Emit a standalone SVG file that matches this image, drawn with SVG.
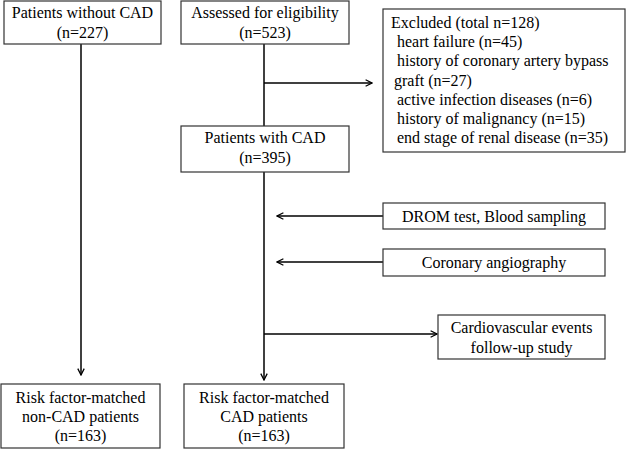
<svg xmlns="http://www.w3.org/2000/svg" width="626" height="449" viewBox="0 0 626 449">
<style>
.box{fill:#fff;stroke:#333;stroke-width:1.2}
.t{font-size:16px;fill:#000}
.c{text-anchor:middle}
.ln{stroke:#000;stroke-width:1.5;fill:none}
</style>
<defs>
<marker id="ah" viewBox="0 0 10 10" refX="9" refY="5" markerWidth="8" markerHeight="8" markerUnits="userSpaceOnUse" orient="auto">
<path d="M1,1 L9,5 L1,9" fill="none" stroke="#000" stroke-width="1.6"/>
</marker>
</defs>
<rect width="626" height="449" fill="#fff"/>
<g id="connectors">
<line class="ln" x1="81" y1="44" x2="81" y2="375" marker-end="url(#ah)"/>
<line class="ln" x1="264" y1="44" x2="264" y2="126"/>
<line class="ln" x1="264" y1="83" x2="372" y2="83" marker-end="url(#ah)"/>
<line class="ln" x1="264" y1="172" x2="264" y2="380" marker-end="url(#ah)"/>
<line class="ln" x1="383" y1="216" x2="277" y2="216" marker-end="url(#ah)"/>
<line class="ln" x1="383" y1="262" x2="277" y2="262" marker-end="url(#ah)"/>
<line class="ln" x1="264" y1="334" x2="437" y2="334" marker-end="url(#ah)"/>
</g>
<g font-family="Liberation Serif, Times New Roman, serif">
<g id="without">
<rect class="box" x="4" y="1" width="157" height="43"/>
<text class="t c" x="82.5" y="18">Patients without CAD</text>
<text class="t c" x="82.5" y="38">(n=227)</text>
</g>
<g id="assessed">
<rect class="box" x="181" y="1" width="168" height="43"/>
<text class="t c" x="265" y="18">Assessed for eligibility</text>
<text class="t c" x="265" y="38">(n=523)</text>
</g>
<g id="excluded">
<rect class="box" x="383" y="9" width="242" height="143"/>
<text class="t" x="391" y="28">Excluded (total n=128)</text>
<text class="t" x="397" y="47">heart failure (n=45)</text>
<text class="t" x="397" y="66">history of coronary artery bypass</text>
<text class="t" x="394" y="86">graft (n=27)</text>
<text class="t" x="397" y="105">active infection diseases (n=6)</text>
<text class="t" x="397" y="124">history of malignancy (n=15)</text>
<text class="t" x="397" y="143">end stage of renal disease (n=35)</text>
</g>
<g id="withcad">
<rect class="box" x="181" y="126" width="168" height="46"/>
<text class="t c" x="265" y="143">Patients with CAD</text>
<text class="t c" x="265" y="163">(n=395)</text>
</g>
<g id="drom">
<rect class="box" x="383" y="203" width="222" height="26"/>
<text class="t c" x="494" y="222">DROM test, Blood sampling</text>
</g>
<g id="angio">
<rect class="box" x="383" y="249" width="222" height="27"/>
<text class="t c" x="494" y="268">Coronary angiography</text>
</g>
<g id="cardio">
<rect class="box" x="438" y="315" width="167" height="44"/>
<text class="t c" x="521.5" y="333">Cardiovascular events</text>
<text class="t c" x="521.5" y="353">follow-up study</text>
</g>
<g id="noncad">
<rect class="box" x="1" y="384" width="159" height="64"/>
<text class="t c" x="80.5" y="403">Risk factor-matched</text>
<text class="t c" x="80.5" y="422">non-CAD patients</text>
<text class="t c" x="80.5" y="441">(n=163)</text>
</g>
<g id="cadmatched">
<rect class="box" x="184" y="384" width="160" height="64"/>
<text class="t c" x="264" y="403">Risk factor-matched</text>
<text class="t c" x="264" y="422">CAD patients</text>
<text class="t c" x="264" y="441">(n=163)</text>
</g>
</g>
</svg>
